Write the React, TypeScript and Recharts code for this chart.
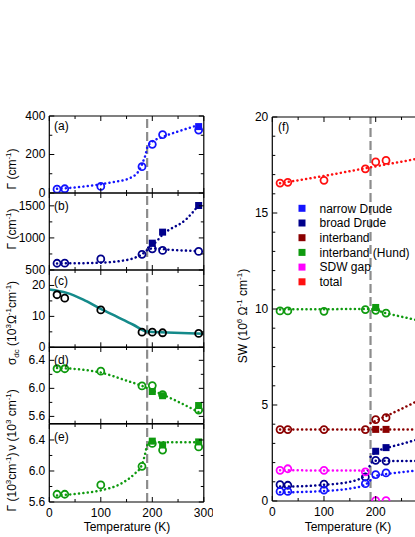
import React from "react";
import { ComposedChart, Line, XAxis, YAxis, ReferenceLine } from "recharts";

type Pt = { t: number; v: number };

const FONT = "'Liberation Sans', Arial, Helvetica, sans-serif";

const BLUE = "#1414ff";
const NAVY = "#00008b";
const MAROON = "#8b0000";
const GREEN = "#0f9a0f";
const MAGENTA = "#ff00ff";
const RED = "#ff1010";
const TEAL = "#148a8a";
const BLACK = "#000";

const T_SDW = 190;
const X_MAJOR = [0, 100, 200, 300];
const X_MINOR = [50, 150, 250];

// (a) narrow Drude scattering rate, cm^-1
const aCircles: Pt[] = [
  { t: 15, v: 20 }, { t: 30, v: 22 }, { t: 100, v: 34 }, { t: 180, v: 137 },
  { t: 200, v: 253 }, { t: 220, v: 303 }, { t: 290, v: 327 },
];
const aSquares: Pt[] = [{ t: 290, v: 345 }];
const aFit: Pt[] = [
  { t: 15, v: 22 }, { t: 55, v: 30 }, { t: 120, v: 55 }, { t: 157, v: 78 },
  { t: 176, v: 125 }, { t: 183, v: 170 }, { t: 187, v: 200 }, { t: 190, v: 235 },
  { t: 195, v: 256 }, { t: 221, v: 292 }, { t: 254, v: 323 }, { t: 290, v: 353 },
];

// (b) broad Drude scattering rate, cm^-1
const bCircles: Pt[] = [
  { t: 15, v: 605 }, { t: 30, v: 607 }, { t: 100, v: 672 }, { t: 180, v: 745 },
  { t: 200, v: 830 }, { t: 220, v: 805 }, { t: 290, v: 790 },
];
const bSquares: Pt[] = [{ t: 200, v: 918 }, { t: 220, v: 1090 }, { t: 290, v: 1505 }];
const bFitLow: Pt[] = [
  { t: 15, v: 603 }, { t: 60, v: 606 }, { t: 100, v: 614 }, { t: 140, v: 642 },
  { t: 163, v: 682 }, { t: 180, v: 745 }, { t: 192, v: 820 }, { t: 200, v: 835 },
  { t: 240, v: 812 }, { t: 290, v: 795 },
];
const bFitHigh: Pt[] = [
  { t: 192, v: 850 }, { t: 202, v: 900 }, { t: 221, v: 1057 }, { t: 267, v: 1300 }, { t: 290, v: 1510 },
];

// (c) dc conductivity, 10^3 Ohm^-1 cm^-1
const cCircles: Pt[] = [
  { t: 15, v: 17.0 }, { t: 30, v: 15.9 }, { t: 100, v: 12.1 }, { t: 180, v: 4.9 },
  { t: 200, v: 4.9 }, { t: 220, v: 4.7 }, { t: 290, v: 4.5 },
];
const cDc: Pt[] = [
  { t: 0, v: 18.7 }, { t: 34, v: 17.6 }, { t: 66, v: 15.4 }, { t: 100, v: 12.4 },
  { t: 131, v: 9.9 }, { t: 163, v: 7.3 }, { t: 189, v: 5.1 }, { t: 228, v: 4.8 }, { t: 300, v: 4.4 },
];

// (d) Hund interband position, 10^3 cm^-1
const dCircles: Pt[] = [
  { t: 15, v: 6.28 }, { t: 30, v: 6.28 }, { t: 100, v: 6.245 }, { t: 180, v: 6.035 },
  { t: 200, v: 6.04 }, { t: 220, v: 5.91 }, { t: 290, v: 5.69 },
];
const dSquares: Pt[] = [{ t: 200, v: 5.955 }, { t: 220, v: 5.895 }, { t: 290, v: 5.755 }];
const dFit: Pt[] = [
  { t: 15, v: 6.29 }, { t: 60, v: 6.27 }, { t: 100, v: 6.225 }, { t: 150, v: 6.11 },
  { t: 180, v: 6.035 }, { t: 200, v: 5.97 }, { t: 220, v: 5.91 }, { t: 250, v: 5.81 }, { t: 290, v: 5.66 },
];

// (e) Hund interband width, 10^3 cm^-1
const eCircles: Pt[] = [
  { t: 15, v: 5.7 }, { t: 30, v: 5.7 }, { t: 100, v: 5.82 }, { t: 180, v: 6.06 },
  { t: 200, v: 6.355 }, { t: 220, v: 6.27 }, { t: 290, v: 6.31 },
];
const eSquares: Pt[] = [{ t: 200, v: 6.385 }, { t: 220, v: 6.335 }, { t: 290, v: 6.375 }];
const eFit: Pt[] = [
  { t: 15, v: 5.685 }, { t: 60, v: 5.71 }, { t: 100, v: 5.75 }, { t: 140, v: 5.84 },
  { t: 165, v: 5.96 }, { t: 180, v: 6.08 }, { t: 186, v: 6.22 }, { t: 190, v: 6.33 },
  { t: 195, v: 6.37 }, { t: 240, v: 6.37 }, { t: 290, v: 6.37 },
];

// (f) spectral weights, 10^6 Ohm^-1 cm^-2
const fTotal: Pt[] = [
  { t: 15, v: 16.56 }, { t: 30, v: 16.6 }, { t: 100, v: 16.7 }, { t: 180, v: 17.3 },
  { t: 200, v: 17.66 }, { t: 220, v: 17.74 },
];
const fTotalFit: Pt[] = [{ t: 15, v: 16.55 }, { t: 100, v: 16.93 }, { t: 190, v: 17.38 }, { t: 280, v: 17.82 }];
const fHund: Pt[] = [
  { t: 15, v: 9.9 }, { t: 30, v: 9.9 }, { t: 100, v: 9.88 }, { t: 180, v: 9.97 },
  { t: 200, v: 9.93 }, { t: 220, v: 9.79 },
];
const fHundSq: Pt[] = [{ t: 200, v: 10.08 }];
const fHundFit: Pt[] = [
  { t: 15, v: 9.98 }, { t: 100, v: 9.99 }, { t: 190, v: 10.0 }, { t: 220, v: 9.78 },
  { t: 250, v: 9.6 }, { t: 280, v: 9.42 },
];
const fInter: Pt[] = [
  { t: 15, v: 3.72 }, { t: 30, v: 3.72 }, { t: 100, v: 3.72 }, { t: 180, v: 3.72 },
  { t: 200, v: 4.24 }, { t: 220, v: 4.34 },
];
const fInterSq: Pt[] = [{ t: 200, v: 3.73 }, { t: 220, v: 3.73 }];
const fInterFlat: Pt[] = [{ t: 15, v: 3.72 }, { t: 280, v: 3.72 }];
const fInterRise: Pt[] = [{ t: 190, v: 4.05 }, { t: 202, v: 4.2 }, { t: 220, v: 4.42 }, { t: 250, v: 4.8 }, { t: 280, v: 5.2 }];
const fBroad: Pt[] = [
  { t: 15, v: 0.85 }, { t: 30, v: 0.82 }, { t: 100, v: 0.88 }, { t: 180, v: 1.25 },
  { t: 200, v: 2.12 }, { t: 220, v: 2.08 },
];
const fBroadSq: Pt[] = [{ t: 200, v: 2.59 }, { t: 220, v: 2.78 }];
const fBroadFit: Pt[] = [
  { t: 15, v: 0.75 }, { t: 60, v: 0.77 }, { t: 100, v: 0.84 }, { t: 150, v: 1.0 },
  { t: 175, v: 1.25 }, { t: 185, v: 1.6 }, { t: 191, v: 1.97 }, { t: 200, v: 2.1 },
  { t: 240, v: 2.08 }, { t: 280, v: 2.08 },
];
const fBroadRise: Pt[] = [{ t: 190, v: 2.3 }, { t: 200, v: 2.55 }, { t: 220, v: 2.75 }, { t: 250, v: 2.97 }, { t: 280, v: 3.2 }];
const fNarrow: Pt[] = [
  { t: 15, v: 0.5 }, { t: 30, v: 0.5 }, { t: 100, v: 0.57 }, { t: 180, v: 0.9 },
  { t: 200, v: 1.37 }, { t: 220, v: 1.46 },
];
const fNarrowFit: Pt[] = [
  { t: 15, v: 0.45 }, { t: 100, v: 0.52 }, { t: 150, v: 0.65 }, { t: 175, v: 0.8 },
  { t: 185, v: 0.95 }, { t: 192, v: 1.15 }, { t: 200, v: 1.3 }, { t: 220, v: 1.4 },
  { t: 250, v: 1.5 }, { t: 280, v: 1.58 },
];
const fSdw: Pt[] = [
  { t: 15, v: 1.6 }, { t: 30, v: 1.68 }, { t: 100, v: 1.6 }, { t: 180, v: 1.52 },
  { t: 200, v: 0.02 }, { t: 220, v: 0.02 },
];
const fSdwFit: Pt[] = [{ t: 15, v: 1.6 }, { t: 185, v: 1.58 }];

const legendNames = ["narrow Drude", "broad Drude", "interband", "interband (Hund)", "SDW gap", "total"];
const legendColors = [BLUE, NAVY, MAROON, GREEN, MAGENTA, RED];

type Mark = { data: Pt[]; color: string; kind: "circle" | "square" | "dots" | "solid" };

const AXIS = { stroke: "#000", strokeWidth: 1.2 };
const near = (list: number[], v: number) => list.some((m) => Math.abs(m - v) < 1e-6);

const tickFor = (side: "left" | "right" | "top" | "bottom", majors: number[], fmt?: (v: number) => string) =>
  (props: any) => {
    const { x, y, payload } = props;
    const major = near(majors, payload.value);
    const len = major ? 5 : 3;
    let line = null;
    let label = null;
    if (side === "left") {
      line = <line x1={x} y1={y} x2={x + len} y2={y} stroke="#000" strokeWidth={1} />;
      if (major && fmt) label = <text x={x - 4} y={y + 4} textAnchor="end" fontSize={12} fontFamily={FONT} fill="#000">{fmt(payload.value)}</text>;
    } else if (side === "right") {
      line = <line x1={x} y1={y} x2={x - len} y2={y} stroke="#000" strokeWidth={1} />;
    } else if (side === "bottom") {
      line = <line x1={x} y1={y} x2={x} y2={y - len} stroke="#000" strokeWidth={1} />;
      // the right panel runs past the page edge, its last label is not shown there
      if (major && fmt && x < 405) label = <text x={x} y={y + 15} textAnchor="middle" fontSize={12} fontFamily={FONT} fill="#000">{fmt(payload.value)}</text>;
    } else {
      line = <line x1={x} y1={y} x2={x} y2={y + len} stroke="#000" strokeWidth={1} />;
    }
    return <g>{line}{label}</g>;
  };

const openCircle = (color: string) => (p: any) =>
  <circle key={`c${p.index}`} cx={p.cx} cy={p.cy} r={3.5} fill="none" stroke={color} strokeWidth={1.8} />;
const filledSquare = (color: string) => (p: any) =>
  <rect key={`s${p.index}`} x={p.cx - 3.5} y={p.cy - 3.5} width={7} height={7} fill={color} />;

function renderMark(m: Mark, i: number) {
  const common = { key: i, data: m.data, dataKey: "v", xAxisId: "b", yAxisId: "l", isAnimationActive: false };
  if (m.kind === "circle") return <Line {...common} stroke="none" dot={openCircle(m.color)} activeDot={false} />;
  if (m.kind === "square") return <Line {...common} stroke="none" dot={filledSquare(m.color)} activeDot={false} />;
  if (m.kind === "solid") return <Line {...common} type="monotone" stroke={m.color} strokeWidth={2.6} dot={false} activeDot={false} />;
  return (
    <Line {...common} type="monotone" stroke={m.color} strokeWidth={2.5} strokeDasharray="0.1 4.3"
      strokeLinecap="round" dot={false} activeDot={false} />
  );
}

type PanelProps = {
  top: number; bottom: number; left: number; right: number;
  domain: [number, number]; yMajor: number[]; yMinor: number[];
  fmt: (v: number) => string; marks: Mark[]; xLabels: boolean;
};

// axes of zero size are skipped by recharts, so the mirrored axes get 1px
function Panel(p: PanelProps) {
  const padT = 8;
  const padR = 8;
  const padB = p.xLabels ? 22 : 8;
  const w = p.right + 1 + padR;
  const h = p.bottom - p.top + padT + padB + 2;
  const yTicks = [...p.yMajor, ...p.yMinor].sort((a, b) => a - b);
  const xTicks = [...X_MAJOR, ...X_MINOR].sort((a, b) => a - b);
  return (
    <div style={{ position: "absolute", left: 0, top: p.top - padT - 1 }}>
      <ComposedChart width={w} height={h} margin={{ top: padT, right: padR, bottom: padB, left: 0 }}>
        <XAxis xAxisId="b" orientation="bottom" dataKey="t" type="number" domain={[0, 300]} ticks={xTicks}
          interval={0} height={1} tickSize={0} tickMargin={0} tickLine={false} axisLine={AXIS} allowDataOverflow
          tick={tickFor("bottom", X_MAJOR, p.xLabels ? (v) => String(v) : undefined)} />
        <XAxis xAxisId="t" orientation="top" dataKey="t" type="number" domain={[0, 300]} ticks={xTicks}
          interval={0} height={1} tickSize={0} tickMargin={0} tickLine={false} axisLine={AXIS} allowDataOverflow
          tick={tickFor("top", X_MAJOR)} />
        <YAxis yAxisId="l" orientation="left" type="number" domain={p.domain} ticks={yTicks} interval={0}
          width={p.left} tickSize={0} tickMargin={0} tickLine={false} axisLine={AXIS} allowDataOverflow
          tick={tickFor("left", p.yMajor, p.fmt)} />
        <YAxis yAxisId="r" orientation="right" type="number" domain={p.domain} ticks={yTicks} interval={0}
          width={1} tickSize={0} tickMargin={0} tickLine={false} axisLine={AXIS} allowDataOverflow
          tick={tickFor("right", p.yMajor)} />
        <ReferenceLine x={T_SDW} xAxisId="b" yAxisId="l" stroke="#8c8c8c" strokeWidth={2.2} strokeDasharray="9 4" />
        {p.marks.map(renderMark)}
      </ComposedChart>
    </div>
  );
}

const LX0 = 49.3;
const LX1 = 203.8;
const RX0 = 272.3;
const RX1 = 427.4;

const int = (v: number) => String(v);
const one = (v: number) => v.toFixed(1);

const Sup = ({ s }: { s: string }) => (
  <tspan dy={-5} fontSize={8}>{s}</tspan>
);

function Overlay() {
  return (
    <svg width={415} height={537} style={{ position: "absolute", left: 0, top: 0, pointerEvents: "none" }}
      fontFamily={FONT} fontSize={12} fill="#000">
      <text x={54} y={130}>(a)</text>
      <text x={54} y={210}>(b)</text>
      <text x={54} y={285}>(c)</text>
      <text x={54} y={364}>(d)</text>
      <text x={54} y={441}>(e)</text>
      <text x={278} y={131}>(f)</text>

      <text transform="translate(16,169) rotate(-90)" textAnchor="middle">
        Γ (cm<Sup s="-1" /><tspan dy={5}>)</tspan>
      </text>
      <text transform="translate(16,229) rotate(-90)" textAnchor="middle">
        Γ (cm<Sup s="-1" /><tspan dy={5}>)</tspan>
      </text>
      <text transform="translate(16,323) rotate(-90)" textAnchor="middle">
        σ<tspan dy={3} fontSize={8}>dc</tspan><tspan dy={-3}> (10</tspan><Sup s="3" /><tspan dy={5}>Ω</tspan>
        <Sup s="-1" /><tspan dy={5}>cm</tspan><Sup s="-1" /><tspan dy={5}>)</tspan>
      </text>
      <text transform="translate(16,420) rotate(-90)" textAnchor="middle">
        ν (10<Sup s="3" /><tspan dy={5}> cm</tspan><Sup s="-1" /><tspan dy={5}>)</tspan>
      </text>
      <text transform="translate(16,482) rotate(-90)" textAnchor="middle">
        Γ (10<Sup s="3" /><tspan dy={5}>cm</tspan><Sup s="-1" /><tspan dy={5}>)</tspan>
      </text>
      <text transform="translate(247,316) rotate(-90)" textAnchor="middle">
        SW (10<Sup s="6" /><tspan dy={5}> Ω</tspan><Sup s="-1" /><tspan dy={5}> cm</tspan><Sup s="-1" /><tspan dy={5}>)</tspan>
      </text>

      <text x={127} y={531} textAnchor="middle">Temperature (K)</text>
      <text x={348} y={531} textAnchor="middle">Temperature (K)</text>

      {legendNames.map((name, i) => (
        <g key={name}>
          <rect x={298.5} y={204.8 + i * 14.7} width={7} height={7} fill={legendColors[i]} />
          <text x={319.5} y={212.5 + i * 14.7}>{name}</text>
        </g>
      ))}
    </svg>
  );
}

export default function App() {
  return (
    <div style={{ position: "absolute", left: 0, top: 0, width: 415, height: 537, overflow: "hidden", background: "#fff" }}>
      <Panel top={116} bottom={193} left={LX0} right={LX1} domain={[0, 400]} yMajor={[0, 200, 400]} yMinor={[100, 300]}
        fmt={int} xLabels={false}
        marks={[
          { data: aFit, color: BLUE, kind: "dots" },
          { data: aSquares, color: BLUE, kind: "square" },
          { data: aCircles, color: BLUE, kind: "circle" },
        ]} />
      <Panel top={193} bottom={270} left={LX0} right={LX1} domain={[500, 1700]} yMajor={[500, 1000, 1500]} yMinor={[750, 1250]}
        fmt={int} xLabels={false}
        marks={[
          { data: bFitLow, color: NAVY, kind: "dots" },
          { data: bFitHigh, color: NAVY, kind: "dots" },
          { data: bSquares, color: NAVY, kind: "square" },
          { data: bCircles, color: NAVY, kind: "circle" },
        ]} />
      <Panel top={270} bottom={347.3} left={LX0} right={LX1} domain={[0, 25]} yMajor={[0, 10, 20]} yMinor={[5, 15]}
        fmt={int} xLabels={false}
        marks={[
          { data: cCircles, color: BLACK, kind: "circle" },
          { data: cDc, color: TEAL, kind: "solid" },
        ]} />
      <Panel top={347.3} bottom={424} left={LX0} right={LX1} domain={[5.496, 6.59]} yMajor={[5.6, 6.0, 6.4]} yMinor={[5.8, 6.2]}
        fmt={one} xLabels={false}
        marks={[
          { data: dFit, color: GREEN, kind: "dots" },
          { data: dSquares, color: GREEN, kind: "square" },
          { data: dCircles, color: GREEN, kind: "circle" },
        ]} />
      <Panel top={424} bottom={502} left={LX0} right={LX1} domain={[5.6, 6.606]} yMajor={[5.6, 6.0, 6.4]} yMinor={[5.8, 6.2]}
        fmt={one} xLabels={true}
        marks={[
          { data: eFit, color: GREEN, kind: "dots" },
          { data: eSquares, color: GREEN, kind: "square" },
          { data: eCircles, color: GREEN, kind: "circle" },
        ]} />
      <Panel top={116.7} bottom={500.7} left={RX0} right={RX1} domain={[0, 20]} yMajor={[0, 5, 10, 15, 20]}
        yMinor={[1, 2, 3, 4, 6, 7, 8, 9, 11, 12, 13, 14, 16, 17, 18, 19]}
        fmt={int} xLabels={true}
        marks={[
          { data: fTotalFit, color: RED, kind: "dots" },
          { data: fHundFit, color: GREEN, kind: "dots" },
          { data: fInterFlat, color: MAROON, kind: "dots" },
          { data: fInterRise, color: MAROON, kind: "dots" },
          { data: fBroadFit, color: NAVY, kind: "dots" },
          { data: fBroadRise, color: NAVY, kind: "dots" },
          { data: fNarrowFit, color: BLUE, kind: "dots" },
          { data: fSdwFit, color: MAGENTA, kind: "dots" },
          { data: fHundSq, color: GREEN, kind: "square" },
          { data: fInterSq, color: MAROON, kind: "square" },
          { data: fBroadSq, color: NAVY, kind: "square" },
          { data: fTotal, color: RED, kind: "circle" },
          { data: fHund, color: GREEN, kind: "circle" },
          { data: fInter, color: MAROON, kind: "circle" },
          { data: fBroad, color: NAVY, kind: "circle" },
          { data: fNarrow, color: BLUE, kind: "circle" },
          { data: fSdw, color: MAGENTA, kind: "circle" },
        ]} />
      <Overlay />
    </div>
  );
}
